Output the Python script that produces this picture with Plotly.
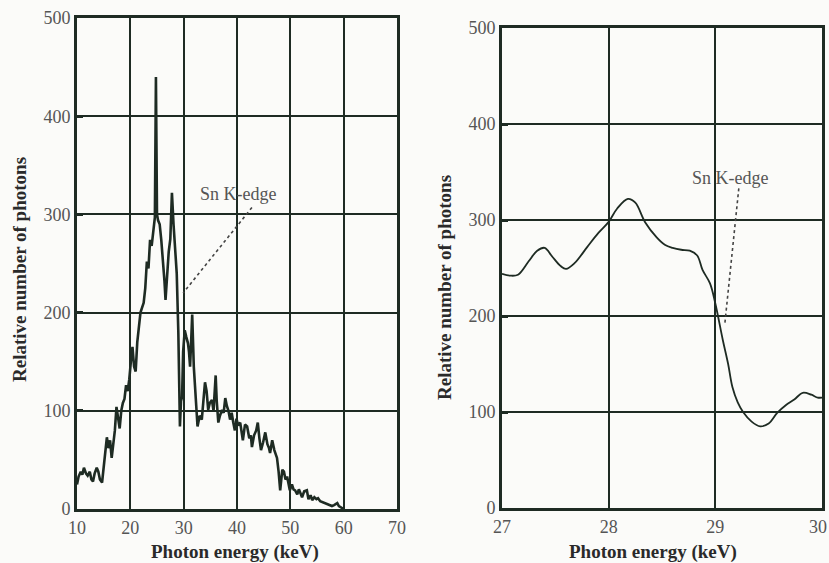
import plotly.graph_objects as go

# Full spectrum (left panel): photon energy in keV and relative photon count
energy_full = [
    10.0, 10.3, 10.7, 11.0, 11.3, 11.7, 12.0, 12.4, 12.7, 13.0, 13.3, 13.7, 14.0, 14.3, 14.7,
    15.0, 15.3, 15.6, 15.9, 16.2, 16.5, 16.8, 17.1, 17.4, 17.7, 18.0, 18.3, 18.6, 18.9, 19.2,
    19.5, 19.8, 20.1, 20.4, 20.7, 21.0, 21.3, 21.6, 21.9, 22.2, 22.5, 22.8, 23.1, 23.4, 23.7,
    24.0, 24.3, 24.6, 24.8, 25.0, 25.2, 25.5, 25.8, 26.1, 26.4, 26.6, 26.9, 27.2, 27.5, 27.8,
    28.1, 28.4, 28.7, 29.0, 29.3, 29.5, 29.7, 29.9, 30.2, 30.5, 30.8, 31.0, 31.2, 31.4, 31.6,
    31.9, 32.2, 32.6, 33.0, 33.4, 33.7, 34.0, 34.3, 34.6, 34.9, 35.3, 35.6, 36.0, 36.2, 36.5,
    36.8, 37.2, 37.5, 37.8, 38.1, 38.4, 38.7, 39.0, 39.3, 39.6, 39.9, 40.2, 40.6, 40.9, 41.1,
    41.5, 41.9, 42.3, 42.6, 42.8, 43.2, 43.6, 43.9, 44.2, 44.5, 44.9, 45.3, 45.7, 46.0, 46.2,
    46.6, 47.0, 47.3, 47.5, 47.8, 48.1, 48.3, 48.5, 48.8, 49.1, 49.4, 49.7, 49.9, 50.3, 50.6,
    50.9, 51.3, 51.6, 52.0, 52.2, 52.6, 53.1, 53.4, 53.8, 54.1, 54.5, 54.9, 55.2, 55.6, 56.0,
    56.5, 57.0, 57.4, 57.8, 58.2, 58.8, 59.1, 59.4, 59.8, 60.0,
]
photons_full = [
    25, 33, 38, 35, 42, 36, 34, 38, 30, 28, 36, 42, 38, 30, 27,
    45, 60, 73, 62, 70, 52, 65, 80, 104, 95, 82, 100, 108, 112, 126,
    120, 132, 150, 165, 145, 140, 170, 185, 200, 205, 210, 225, 252, 245, 274,
    268, 285, 297, 440, 300, 294, 290, 274, 255, 232, 213, 245, 262, 275, 322,
    290, 267, 240, 180, 84, 110, 114, 160, 182, 175, 169, 160, 145, 170, 198,
    145, 120, 84, 95, 91, 110, 129, 120, 101, 108, 111, 100, 136, 110, 88,
    95, 101, 98, 113, 105, 100, 91, 98, 88, 80, 92, 85, 88, 75, 70,
    86, 84, 72, 75, 63, 75, 80, 88, 72, 60, 68, 78, 66, 62, 57,
    70, 60, 55, 52, 38, 19, 30, 40, 38, 30, 33, 22, 19, 25, 20,
    19, 15, 20, 14, 12, 18, 19, 10, 14, 9, 12, 10, 11, 8, 7,
    6, 5, 4, 3, 4, 6, 3, 2, 1, 0,
]

# Detail around the Sn K-edge (right panel)
energy_zoom = [
    27.0, 27.08, 27.15, 27.25, 27.33, 27.4, 27.47, 27.55, 27.6, 27.68, 27.8, 27.9, 28.0,
    28.08, 28.18, 28.25, 28.34, 28.45, 28.53, 28.6, 28.68, 28.76, 28.83, 28.88, 28.95,
    29.0, 29.07, 29.12, 29.16, 29.21, 29.26, 29.34, 29.42, 29.5, 29.58, 29.66, 29.74,
    29.82, 29.9, 29.96, 30.0,
]
photons_zoom = [
    244, 242, 243, 257, 268, 271, 262, 252, 249, 255, 272, 286, 298,
    312, 322, 318, 298, 282, 274, 271, 269, 268, 263, 248, 234,
    213, 175, 150, 126, 110, 100, 90, 85, 88, 99, 107, 113,
    120, 118, 115, 115,
]

# Sn K-edge pointer: label position and the dotted leader line (x, y in data units)
label_full = (40.2, 321)
leader_full = ((42.8, 307), (29.9, 220))
label_zoom = (29.14, 344)
leader_zoom = ((29.22, 333), (29.09, 193))

x_ticks_full = [10, 20, 30, 40, 50, 60, 70]
x_ticks_zoom = [27, 28, 29, 30]
y_ticks = [0, 100, 200, 300, 400, 500]

W, H = 829, 563
INK = "#1e2b23"
SERIF = "Liberation Serif, Times New Roman, serif"
TICK_FONT = dict(family=SERIF, size=18, color="#555555")

fig = go.Figure()
fig.add_trace(go.Scatter(x=energy_full, y=photons_full, mode="lines",
                         line=dict(color=INK, width=2.6), xaxis="x", yaxis="y",
                         showlegend=False))
fig.add_trace(go.Scatter(x=energy_zoom, y=photons_zoom, mode="lines",
                         line=dict(color=INK, width=1.8, shape="spline", smoothing=1.0),
                         xaxis="x2", yaxis="y2", showlegend=False))

axis_common = dict(
    showgrid=True, gridcolor=INK, gridwidth=2,
    showline=True, linecolor=INK, linewidth=3, mirror=True,
    zeroline=False, automargin=False,
    tickfont=TICK_FONT,
)


def px_x(p):
    return p / W


def px_y(p):
    return 1 - p / H


# the last tick of the right panel sits at the page edge, so it is drawn
# separately, right-aligned to stay on the page
zoom_ticktext = [str(v) for v in x_ticks_zoom[:-1]] + [""]

fig.update_layout(
    width=W, height=H,
    margin=dict(l=0, r=0, t=0, b=0),
    paper_bgcolor="#fbfbf9", plot_bgcolor="#fbfbf9",
    xaxis=dict(domain=[px_x(77), px_x(397)], range=[10, 70], tickvals=x_ticks_full,
               anchor="y", **axis_common),
    yaxis=dict(domain=[px_y(509), px_y(18)], range=[0, 500], tickvals=y_ticks,
               anchor="x", ticks="inside", ticklen=6, tickwidth=3, tickcolor=INK,
               **axis_common),
    xaxis2=dict(domain=[px_x(502), px_x(822)], range=[27, 30], tickvals=x_ticks_zoom,
                ticktext=zoom_ticktext, anchor="y2", **axis_common),
    yaxis2=dict(domain=[px_y(508), px_y(28)], range=[0, 500], tickvals=y_ticks,
                anchor="x2", ticks="inside", ticklen=6, tickwidth=3, tickcolor=INK,
                **axis_common),
)

fig.add_annotation(text=str(x_ticks_zoom[-1]), x=1.0, y=px_y(527), xref="paper",
                   yref="paper", xanchor="right", yanchor="middle", showarrow=False,
                   font=TICK_FONT)

title_font = dict(family=SERIF, size=19, color="#2a2a2a")

# Axis titles
for cx, text in ((235, "Photon energy (keV)"), (653, "Photon energy (keV)")):
    fig.add_annotation(text="<b>%s</b>" % text, x=px_x(cx), y=px_y(552),
                       xref="paper", yref="paper", showarrow=False, font=title_font,
                       xanchor="center", yanchor="middle")
for cx, cy in ((19, 270), (444, 288)):
    fig.add_annotation(text="<b>Relative number of photons</b>", x=px_x(cx), y=px_y(cy),
                       xref="paper", yref="paper", showarrow=False, textangle=-90,
                       font=title_font, xanchor="center", yanchor="middle")

# Sn K-edge labels with dotted leaders
for (lx, ly), ((x0, y0), (x1, y1)), xr, yr in (
    (label_full, leader_full, "x", "y"),
    (label_zoom, leader_zoom, "x2", "y2"),
):
    fig.add_annotation(text="Sn K-edge", x=lx, y=ly, xref=xr, yref=yr, showarrow=False,
                       font=dict(family=SERIF, size=18, color="#555555"))
    fig.add_shape(type="line", x0=x0, y0=y0, x1=x1, y1=y1, xref=xr, yref=yr,
                  line=dict(color="#444444", width=1.6, dash="dot"))

fig.write_html("out.html")
